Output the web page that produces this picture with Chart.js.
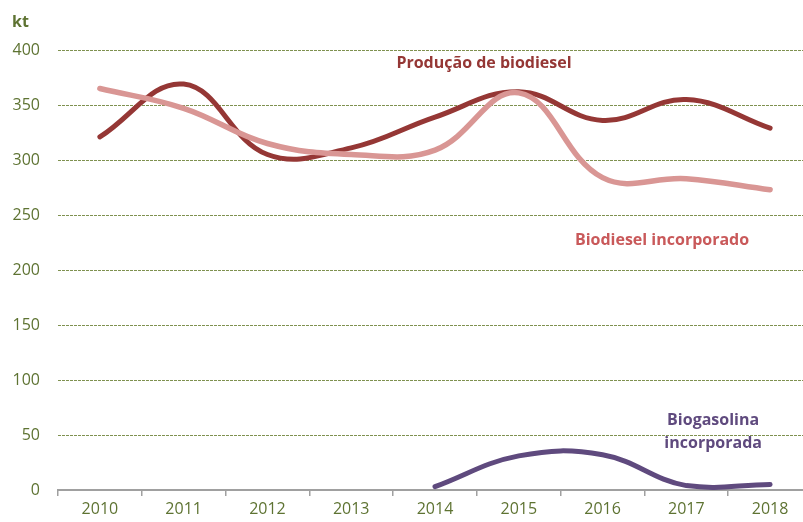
<!DOCTYPE html>
<html>
<head>
<meta charset="utf-8">
<script src="https://cdn.jsdelivr.net/npm/chart.js@4/dist/chart.umd.min.js"></script>
<style>
  html, body { margin: 0; padding: 0; background: #fff; overflow: hidden; }
  #wrap { width: 812px; height: 522px; }
</style>
</head>
<body>
<div id="wrap"><canvas id="myChart" width="812" height="522"></canvas></div>
<script>
'use strict';
var years = ['2010', '2011', '2012', '2013', '2014', '2015', '2016', '2017', '2018'];
var producao = [321, 369, 305, 311, 339, 362, 336, 355, 329];
var incorporado = [365, 347, 315, 305, 309, 361, 284, 283, 273];
var biogasolina = [null, null, null, null, 3, 31, 32, 4, 5];
var yTicks = [0, 50, 100, 150, 200, 250, 300, 350, 400];

var green = '#5e7332';
var font = '"Open Sans", "Noto Sans", sans-serif';

// text labels placed through the scales (fractional category index, value)
var seriesLabels = [
    { text: 'Produção de biodiesel', x: 4.585, y: 388, color: '#953735' },
    { text: 'Biodiesel incorporado', x: 6.71, y: 227, color: '#c9595a' },
    { text: 'Biogasolina', x: 7.32, y: 63, color: '#5f4a7e' },
    { text: 'incorporada', x: 7.32, y: 42, color: '#5f4a7e' }
];

var labelPlugin = {
    id: 'labelPlugin',
    afterDraw: function (chart) {
        var ctx = chart.ctx;
        var xs = chart.scales.x, ys = chart.scales.y;
        ctx.save();
        ctx.textAlign = 'center';
        ctx.textBaseline = 'middle';
        ctx.font = 'bold 16px ' + font;
        seriesLabels.forEach(function (l) {
            ctx.fillStyle = l.color;
            ctx.fillText(l.text, xs.getPixelForValue(l.x), ys.getPixelForValue(l.y));
        });
        ctx.fillStyle = green;
        ctx.textAlign = 'left';
        ctx.fillText('kt', 12, 22);
        ctx.restore();
    }
};

var ctx = document.getElementById('myChart');
var myChart = new Chart(ctx, {
    type: 'line',
    data: {
        labels: years,
        datasets: [{
            label: 'Biodiesel incorporado',
            data: incorporado,
            borderColor: '#d99694',
            borderWidth: 5.5,
            tension: 0.4,
            pointRadius: 0,
            borderCapStyle: 'round'
        }, {
            label: 'Produção de biodiesel',
            data: producao,
            borderColor: '#953735',
            borderWidth: 5,
            tension: 0.4,
            pointRadius: 0,
            borderCapStyle: 'round'
        }, {
            label: 'Biogasolina incorporada',
            data: biogasolina,
            borderColor: '#5f4a7e',
            borderWidth: 5,
            tension: 0.4,
            pointRadius: 0,
            borderCapStyle: 'round',
            spanGaps: false
        }]
    },
    options: {
        responsive: false,
        animation: false,
        layout: { padding: { top: 50, right: 0, bottom: 0, left: 0 } },
        plugins: { legend: { display: false }, tooltip: { enabled: false } },
        scales: {
            x: {
                offset: true,
                afterFit: function (scale) { scale.height = 32; },
                border: { display: true, color: '#a0a0a0', width: 2 },
                grid: { offset: true, drawOnChartArea: false, drawTicks: true, tickLength: 6, color: '#a0a0a0', lineWidth: 1.5 },
                ticks: { color: green, font: { family: font, size: 16 }, padding: 4, maxRotation: 0 }
            },
            y: {
                min: 0,
                max: 400,
                afterFit: function (scale) { scale.width = 58; },
                afterBuildTicks: function (scale) {
                    scale.ticks = yTicks.map(function (v) { return { value: v }; });
                },
                border: { display: false, dash: [3, 1] },
                grid: {
                    drawTicks: false,
                    color: function (c) { return c.tick.value === 0 ? 'rgba(0,0,0,0)' : '#7f9150'; },
                    lineWidth: 1
                },
                ticks: { color: green, font: { family: font, size: 16 }, padding: 18 }
            }
        }
    },
    plugins: [labelPlugin]
});
</script>
</body>
</html>
